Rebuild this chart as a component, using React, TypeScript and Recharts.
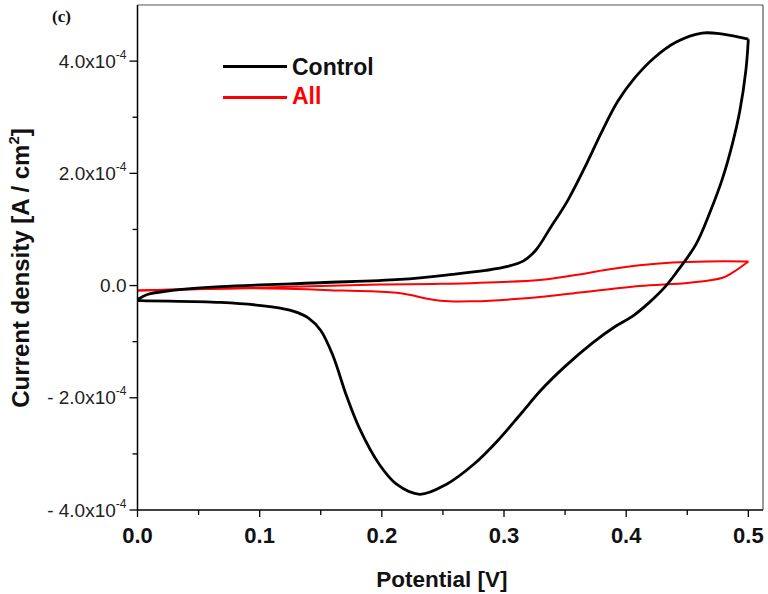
import React from 'react';
import { LineChart, Line, XAxis, YAxis, ReferenceLine, Legend } from 'recharts';

// Current density values are given in units of 1e-4 A/cm^2
const UNIT = 1e-4;

// Control: forward (anodic) scan
const controlForwardV = [0, 0.008, 0.027, 0.068, 0.149, 0.215, 0.258, 0.285, 0.303, 0.316, 0.326, 0.338, 0.352, 0.366, 0.38, 0.393, 0.407, 0.423, 0.441, 0.462, 0.479, 0.5];
const controlForwardI = [-0.25, -0.16, -0.09, -0.02, 0.05, 0.11, 0.2, 0.27, 0.34, 0.44, 0.63, 1.03, 1.51, 2.1, 2.74, 3.28, 3.7, 4.06, 4.34, 4.5, 4.48, 4.39];

// Control: reverse (cathodic) scan
const controlReverseV = [0.5, 0.498, 0.493, 0.487, 0.479, 0.469, 0.457, 0.441, 0.432, 0.419, 0.405, 0.391, 0.372, 0.35, 0.33, 0.314, 0.295, 0.275, 0.253, 0.231, 0.212, 0.198, 0.182, 0.171, 0.16, 0.15, 0.14, 0.128, 0.11, 0.068, 0];
const controlReverseI = [4.39, 3.84, 3.11, 2.53, 1.92, 1.33, 0.73, 0.23, -0.02, -0.3, -0.55, -0.73, -1.03, -1.44, -1.87, -2.28, -2.76, -3.19, -3.54, -3.72, -3.54, -3.19, -2.56, -1.96, -1.25, -0.8, -0.58, -0.46, -0.38, -0.3, -0.27];

// All: forward scan
const allForwardV = [0, 0.095, 0.198, 0.248, 0.329, 0.356, 0.384, 0.411, 0.438, 0.466, 0.5];
const allForwardI = [-0.09, -0.04, 0.02, 0.03, 0.1, 0.18, 0.28, 0.36, 0.41, 0.43, 0.43];

// All: reverse scan
const allReverseV = [0.5, 0.487, 0.479, 0.452, 0.411, 0.356, 0.315, 0.275, 0.248, 0.212, 0.168, 0.095, 0];
const allReverseI = [0.43, 0.23, 0.14, 0.05, -0.01, -0.14, -0.23, -0.28, -0.27, -0.13, -0.09, -0.05, -0.09];

const xTicks = [0, 0.05, 0.1, 0.15, 0.2, 0.25, 0.3, 0.35, 0.4, 0.45, 0.5];
const xTickLabels = ['0.0', '', '0.1', '', '0.2', '', '0.3', '', '0.4', '', '0.5'];
const yTicksUnits = [-4, -3, -2, -1, 0, 1, 2, 3, 4];
const yTickLabels = ['- 4.0x10', '', '- 2.0x10', '', '0.0', '', '2.0x10', '', '4.0x10'];
const yTickExponents = ['-4', '', '-4', '', '', '', '-4', '', '-4'];

const seriesNames = ['Control', 'All'];
const seriesColors = ['#000000', '#ff0000'];

const toPoints = (v: number[], i: number[]) => v.map((x, k) => ({ v: x, i: i[k] * UNIT }));
const yTicks = yTicksUnits.map((t) => t * UNIT);

const FONT = '"Liberation Sans", Arial, sans-serif';

// Centripetal Catmull-Rom curve factory (handles loops without overshoot)
const catmullRom = (context: any) => {
  let pts: number[][] = [];
  return {
    areaStart() {},
    areaEnd() {},
    lineStart() {
      pts = [];
    },
    point(x: number, y: number) {
      pts.push([+x, +y]);
    },
    lineEnd() {
      if (!pts.length) return;
      context.moveTo(pts[0][0], pts[0][1]);
      const n = pts.length;
      for (let k = 0; k < n - 1; k++) {
        const p0 = pts[Math.max(0, k - 1)];
        const p1 = pts[k];
        const p2 = pts[k + 1];
        const p3 = pts[Math.min(n - 1, k + 2)];
        const d01 = Math.hypot(p1[0] - p0[0], p1[1] - p0[1]);
        const d12 = Math.hypot(p2[0] - p1[0], p2[1] - p1[1]);
        const d23 = Math.hypot(p3[0] - p2[0], p3[1] - p2[1]);
        const l01a = Math.sqrt(d01), l01_2a = d01;
        const l12a = Math.sqrt(d12), l12_2a = d12;
        const l23a = Math.sqrt(d23), l23_2a = d23;
        let x1 = p1[0], y1 = p1[1], x2 = p2[0], y2 = p2[1];
        if (l01a > 1e-9) {
          const a = 2 * l01_2a + 3 * l01a * l12a + l12_2a;
          const m = 3 * l01a * (l01a + l12a);
          x1 = (p1[0] * a - p0[0] * l12_2a + p2[0] * l01_2a) / m;
          y1 = (p1[1] * a - p0[1] * l12_2a + p2[1] * l01_2a) / m;
        }
        if (l23a > 1e-9) {
          const b = 2 * l23_2a + 3 * l23a * l12a + l12_2a;
          const m = 3 * l23a * (l23a + l12a);
          x2 = (p2[0] * b + p1[0] * l23_2a - p3[0] * l12_2a) / m;
          y2 = (p2[1] * b + p1[1] * l23_2a - p3[1] * l12_2a) / m;
        }
        context.bezierCurveTo(x1, y1, x2, y2, p2[0], p2[1]);
      }
    },
  };
};

const XTick = (props: any) => {
  const { x, y, index } = props;
  const label = xTickLabels[index];
  const major = label !== '';
  return (
    <g>
      <line x1={x} y1={y} x2={x} y2={y + (major ? 7 : 5)} stroke="#000" strokeWidth={1.3} />
      {major && (
        <text x={x} y={y + 33} textAnchor="middle" fontFamily={FONT} fontWeight="bold" fontSize={22} fill="#111">
          {label}
        </text>
      )}
    </g>
  );
};

const YTick = (props: any) => {
  const { x, y, index } = props;
  const label = yTickLabels[index];
  const exp = yTickExponents[index];
  const major = label !== '';
  return (
    <g>
      <line x1={x - (major ? 8 : 5)} y1={y} x2={x} y2={y} stroke="#000" strokeWidth={1.3} />
      {major && (
        <text x={x - 11} y={y + 6.5} textAnchor="end" fontFamily={FONT} fontSize={19} fill="#222">
          {label}
          {exp && (
            <tspan fontSize={12} dy={-9}>
              {exp}
            </tspan>
          )}
        </text>
      )}
    </g>
  );
};

const YTitle = () => (
  <text
    transform="translate(29, 268) rotate(-90)"
    textAnchor="middle"
    fontFamily={FONT}
    fontWeight="bold"
    fontSize={24}
    fill="#111"
  >
    Current density [A / cm
    <tspan fontSize={15} dy={-10}>2</tspan>
    <tspan dy={10}>]</tspan>
  </text>
);

const XTitle = () => (
  <text x={442} y={587} textAnchor="middle" fontFamily={FONT} fontWeight="bold" fontSize={22.5} fill="#111">
    Potential [V]
  </text>
);

const LegendContent = () => (
  <div style={{ position: 'relative', width: 768, height: 120 }}>
    <div
      style={{
        position: 'absolute', left: 52, top: 8, fontFamily: '"Liberation Serif", "Times New Roman", serif',
        fontWeight: 'bold', fontSize: 17, lineHeight: '17px', color: '#111',
      }}
    >
      (c)
    </div>
    {seriesNames.map((name, k) => (
      <React.Fragment key={name}>
        <div style={{ position: 'absolute', left: 223, top: 65 + k * 31, width: 64, height: 2.5, background: seriesColors[k] }} />
        <div
          style={{
            position: 'absolute', left: 292, top: 55.5 + k * 29, fontFamily: FONT, fontWeight: 'bold',
            fontSize: 23, lineHeight: '23px', color: seriesColors[k] === '#000000' ? '#111' : seriesColors[k],
            whiteSpace: 'nowrap',
          }}
        >
          {name}
        </div>
      </React.Fragment>
    ))}
  </div>
);

export default function App() {
  return (
    <div style={{ position: 'absolute', left: 0, top: 0, width: 768, height: 594, background: '#fff' }}>
      <LineChart width={768} height={594} margin={{ top: 5, right: 5, bottom: 0, left: 0 }}>
        <XAxis
          dataKey="v"
          type="number"
          domain={[0, 0.512]}
          ticks={xTicks}
          allowDataOverflow
          height={84}
          tickSize={0}
          tickMargin={0}
          tickLine={false}
          tick={<XTick />}
          axisLine={{ stroke: '#000', strokeWidth: 1.5 }}
          interval={0}
          label={<XTitle />}
        />
        <YAxis
          dataKey="i"
          type="number"
          domain={[-4 * UNIT, 5 * UNIT]}
          ticks={yTicks}
          allowDataOverflow
          width={137.5}
          tickSize={0}
          tickMargin={0}
          tickLine={false}
          tick={<YTick />}
          axisLine={{ stroke: '#000', strokeWidth: 1.5 }}
          interval={0}
          label={<YTitle />}
        />
        <ReferenceLine y={5 * UNIT} stroke="#555" strokeWidth={1.2} />
        <ReferenceLine x={0.512} stroke="#555" strokeWidth={1.2} />
        <Line data={toPoints(allForwardV, allForwardI)} dataKey="i" type={catmullRom as any} stroke={seriesColors[1]} strokeWidth={2} dot={false} isAnimationActive={false} />
        <Line data={toPoints(allReverseV, allReverseI)} dataKey="i" type={catmullRom as any} stroke={seriesColors[1]} strokeWidth={2} dot={false} isAnimationActive={false} />
        <Line data={toPoints(controlForwardV, controlForwardI)} dataKey="i" type={catmullRom as any} stroke={seriesColors[0]} strokeWidth={2.8} dot={false} isAnimationActive={false} />
        <Line data={toPoints(controlReverseV, controlReverseI)} dataKey="i" type={catmullRom as any} stroke={seriesColors[0]} strokeWidth={2.8} dot={false} isAnimationActive={false} />
        <Legend
          layout="horizontal"
          verticalAlign="middle"
          align="center"
          content={<LegendContent />}
          wrapperStyle={{ position: 'absolute', left: 0, top: 0, width: 768, height: 120 }}
        />
      </LineChart>
    </div>
  );
}
